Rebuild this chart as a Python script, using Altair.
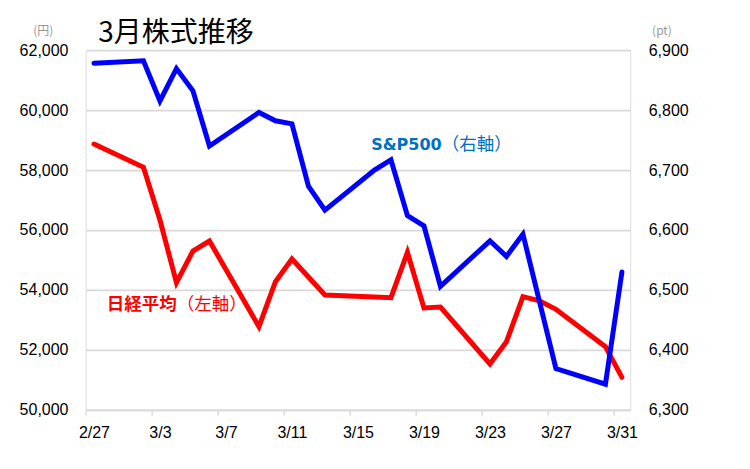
import altair as alt
import pandas as pd

# ---- data ----
sp_dates = ["2026-02-27", "2026-03-02", "2026-03-03", "2026-03-04", "2026-03-05", "2026-03-06",
            "2026-03-09", "2026-03-10", "2026-03-11", "2026-03-12", "2026-03-13",
            "2026-03-16", "2026-03-17", "2026-03-18", "2026-03-19", "2026-03-20",
            "2026-03-23", "2026-03-24", "2026-03-25", "2026-03-27",
            "2026-03-30", "2026-03-31"]
sp_values = [6878, 6882, 6815, 6869, 6832, 6740,
             6796, 6782, 6777, 6673, 6633,
             6700, 6717, 6624, 6607, 6506,
             6582, 6556, 6593, 6369,
             6343, 6530]

nk_dates = ["2026-02-27", "2026-03-02", "2026-03-03", "2026-03-04", "2026-03-05", "2026-03-06",
            "2026-03-09", "2026-03-10", "2026-03-11", "2026-03-12", "2026-03-13",
            "2026-03-16", "2026-03-17", "2026-03-18", "2026-03-19", "2026-03-20",
            "2026-03-23", "2026-03-24", "2026-03-25", "2026-03-26", "2026-03-27",
            "2026-03-30", "2026-03-31"]
nk_values = [58867, 58090, 56333, 54243, 55300, 55633,
             52777, 54277, 55033, 54433, 53833,
             53767, 53744, 55256, 53400, 53430,
             51533, 52277, 53777, 53640, 53357,
             52111, 51089]

tick_dates = [(2, 27), (3, 3), (3, 7), (3, 11), (3, 15), (3, 19), (3, 23), (3, 27), (3, 31)]
left_ticks = [50000, 52000, 54000, 56000, 58000, 60000, 62000]
right_ticks = [6300, 6400, 6500, 6600, 6700, 6800, 6900]

title_text = "3月株式推移"
left_unit = "(円)"
right_unit = "(pt)"

# annotation labels: (bold part, normal part, anchor time, value on left axis, colour, font, bold size)
ann_sp = ("S&P500", "（右軸）", "2026-03-20T13:49:00Z", 58833, "#0070C0", "DejaVu Sans", 16)
ann_nk = ("日経平均", "（左軸）", "2026-03-04T12:22:00Z", 53500, "#FF0000", "Noto Sans CJK JP", 17.5)

BLUE = "#0000FF"
RED = "#FF0000"
GRID = "#D9D9D9"

sp_df = pd.DataFrame({"date": [d + "T12:00:00Z" for d in sp_dates], "value": sp_values})
nk_df = pd.DataFrame({"date": [d + "T12:00:00Z" for d in nk_dates], "value": nk_values})

x_scale = alt.Scale(type="utc",
                    domain=[alt.DateTime(year=2026, month=2, date=27, utc=True),
                            alt.DateTime(year=2026, month=4, date=1, utc=True)])
x_axis = alt.Axis(values=[alt.DateTime(year=2026, month=m, date=d, utc=True) for m, d in tick_dates],
                  labelExpr="utcFormat(datum.value, '%-m/%-d')", title=None, grid=False,
                  labelAlign="center", labelOffset=8.25, labelFlush=False, labelOverlap=False,
                  labelPadding=10, labelFont="Liberation Sans", labelFontSize=16, labelColor="#000000",
                  domainColor=GRID, domainWidth=1.75, tickColor=GRID, tickWidth=1.5, tickSize=5)
x_enc = alt.X("date:T", scale=x_scale, axis=x_axis)
x_enc_noaxis = alt.X("date:T", scale=x_scale)

left_scale = alt.Scale(domain=[50000, 62000], nice=False, zero=False)
right_scale = alt.Scale(domain=[6300, 6900], nice=False, zero=False)

left_axis = alt.Axis(values=left_ticks, format=",d", grid=True, gridColor=GRID, gridWidth=1.75,
                     ticks=False, domain=False, labelPadding=17.7, labelFlush=False,
                     labelFont="Liberation Sans", labelFontSize=16, labelColor="#000000",
                     title=left_unit, titleAngle=0, titleX=-43, titleY=-20, titleAlign="center",
                     titleBaseline="middle", titleFontSize=12, titleColor="#999999",
                     titleFont="Noto Sans CJK JP", titleFontWeight="normal")
right_axis = alt.Axis(values=right_ticks, format=",d", grid=False, orient="right",
                      ticks=False, domain=False, labelPadding=18, labelFlush=False,
                      labelFont="Liberation Sans", labelFontSize=16, labelColor="#000000",
                      title=right_unit, titleAngle=0, titleX=31.3, titleY=-20, titleAlign="center",
                      titleBaseline="middle", titleFontSize=12, titleColor="#999999",
                      titleFont="Noto Sans CJK JP", titleFontWeight="normal")

nk_line = alt.Chart(nk_df).mark_line(color=RED, strokeWidth=5, strokeCap="round").encode(
    x=x_enc, y=alt.Y("value:Q", scale=left_scale, axis=left_axis))


def ann_layers(a):
    bold, normal, t, v, col, font, bsize = a
    df = pd.DataFrame({"date": [t], "value": [v], "bold": [bold], "normal": [normal]})
    base = alt.Chart(df)
    l1 = base.mark_text(align="right", baseline="middle", fontSize=bsize, fontWeight="bold",
                        font=font, color=col).encode(
        x=x_enc_noaxis, y=alt.Y("value:Q", scale=left_scale), text="bold:N")
    l2 = base.mark_text(align="left", baseline="middle", fontSize=17.5, fontWeight="normal",
                        font="Noto Sans CJK JP", color=col).encode(
        x=x_enc_noaxis, y=alt.Y("value:Q", scale=left_scale), text="normal:N")
    return [l1, l2]


left_layer = alt.layer(nk_line, *ann_layers(ann_sp), *ann_layers(ann_nk))

sp_line = alt.Chart(sp_df).mark_line(color=BLUE, strokeWidth=5, strokeCap="round").encode(
    x=x_enc_noaxis, y=alt.Y("value:Q", scale=right_scale, axis=right_axis))

chart = alt.layer(left_layer, sp_line).resolve_scale(y="independent").properties(
    width=544.5, height=360,
    autosize=alt.AutoSizeParams(type="none"),
    padding={"left": 77.7, "top": 42, "right": 100, "bottom": 50},
    title=alt.TitleParams(title_text, anchor="start", frame="group", dx=12.5, dy=28, fontSize=28,
                          font="Noto Sans CJK JP", fontWeight="normal", color="#000000"),
).configure_view(stroke=None).configure(background="white")

chart.save("out.html", embed_options={"renderer": "svg", "actions": False})
